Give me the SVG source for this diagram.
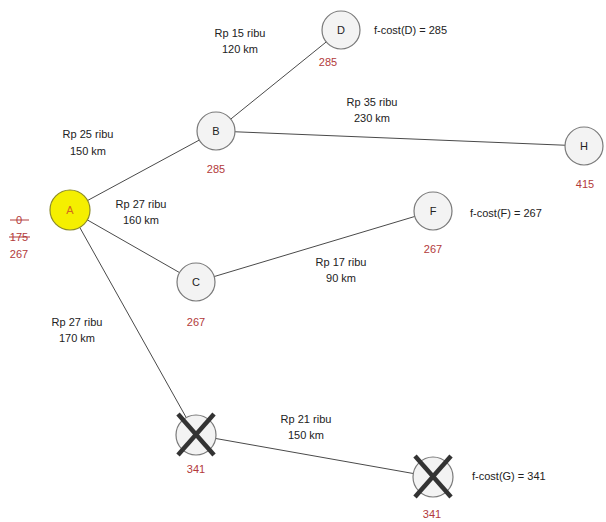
<svg xmlns="http://www.w3.org/2000/svg" width="606" height="522" viewBox="0 0 606 522">
  <style>
    text { font-family: "Liberation Sans", Arial, sans-serif; font-size: 11px; fill: #222; }
    .lbl { text-anchor: middle; }
    .cost { text-anchor: middle; fill: #b23a3a; }
    .node { fill: #f3f3f3; stroke: #7a7a7a; stroke-width: 1.2; }
    .edge { stroke: #4a4a4a; stroke-width: 1; fill: none; }
    .cross { stroke: #333; stroke-width: 4.5; stroke-linecap: butt; }
    .strike { stroke: #b23a3a; stroke-width: 1; }
  </style>
  <rect width="606" height="522" fill="#ffffff"/>

  <!-- connectors -->
  <g id="edges">
    <line class="edge" x1="70" y1="210" x2="216" y2="131"/>
    <line class="edge" x1="216" y1="131" x2="341" y2="30"/>
    <line class="edge" x1="216" y1="131" x2="584" y2="146"/>
    <line class="edge" x1="70" y1="210" x2="196" y2="282"/>
    <line class="edge" x1="196" y1="282" x2="433" y2="211"/>
    <line class="edge" x1="70" y1="210" x2="196" y2="435"/>
    <line class="edge" x1="196" y1="435" x2="433" y2="477"/>
  </g>

  <!-- edge labels -->
  <g id="edge-labels">
    <text class="lbl" x="240" y="37">Rp 15 ribu</text>
    <text class="lbl" x="240" y="53">120 km</text>
    <text class="lbl" x="372" y="106">Rp 35 ribu</text>
    <text class="lbl" x="372" y="122">230 km</text>
    <text class="lbl" x="88" y="138">Rp 25 ribu</text>
    <text class="lbl" x="88" y="155">150 km</text>
    <text class="lbl" x="141" y="208">Rp 27 ribu</text>
    <text class="lbl" x="141" y="224">160 km</text>
    <text class="lbl" x="341" y="266">Rp 17 ribu</text>
    <text class="lbl" x="341" y="282">90 km</text>
    <text class="lbl" x="77" y="326">Rp 27 ribu</text>
    <text class="lbl" x="77" y="342">170 km</text>
    <text class="lbl" x="306" y="423">Rp 21 ribu</text>
    <text class="lbl" x="306" y="439">150 km</text>
  </g>

  <g id="node-A">
    <circle cx="70" cy="210" r="20" fill="#f5ef00" stroke="#8b8a2a" stroke-width="1.2"/>
    <text class="lbl" x="70" y="214" style="fill:#d2691e">A</text>
    <text class="cost" x="19" y="224">0</text>
    <line class="strike" x1="10" y1="220" x2="29" y2="220"/>
    <text class="cost" x="19" y="241">175</text>
    <line class="strike" x1="9" y1="237" x2="30" y2="237"/>
    <text class="cost" x="19" y="258">267</text>
  </g>

  <g id="node-B">
    <circle class="node" cx="216" cy="131" r="19"/>
    <text class="lbl" x="216" y="135">B</text>
    <text class="cost" x="216" y="173">285</text>
  </g>

  <g id="node-D">
    <circle class="node" cx="341" cy="30" r="19"/>
    <text class="lbl" x="341" y="34">D</text>
    <text class="cost" x="328" y="66">285</text>
    <text x="374" y="34">f-cost(D) = 285</text>
  </g>

  <g id="node-H">
    <circle class="node" cx="584" cy="146" r="19"/>
    <text class="lbl" x="584" y="150">H</text>
    <text class="cost" x="585" y="188">415</text>
  </g>

  <g id="node-C">
    <circle class="node" cx="196" cy="282" r="19"/>
    <text class="lbl" x="196" y="286">C</text>
    <text class="cost" x="196" y="326">267</text>
  </g>

  <g id="node-F">
    <circle class="node" cx="433" cy="211" r="19"/>
    <text class="lbl" x="433" y="215">F</text>
    <text class="cost" x="433" y="253">267</text>
    <text x="470" y="217">f-cost(F) = 267</text>
  </g>

  <g id="node-G1">
    <circle class="node" cx="196" cy="435" r="20"/>
    <line class="cross" x1="178" y1="414" x2="214" y2="455"/>
    <line class="cross" x1="214" y1="414" x2="178" y2="455"/>
    <text class="cost" x="196" y="473">341</text>
  </g>

  <g id="node-G2">
    <circle class="node" cx="433" cy="477" r="20"/>
    <line class="cross" x1="415" y1="456" x2="451" y2="497"/>
    <line class="cross" x1="451" y1="456" x2="415" y2="497"/>
    <text class="cost" x="432" y="518">341</text>
    <text x="472" y="480">f-cost(G) = 341</text>
  </g>
</svg>
